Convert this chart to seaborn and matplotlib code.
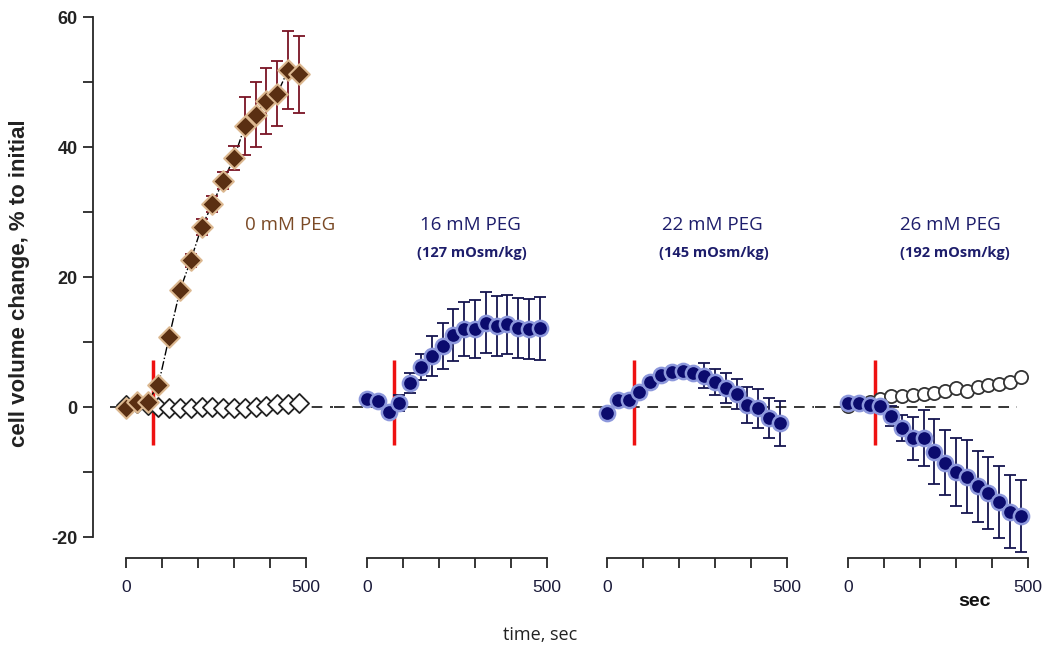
import matplotlib
matplotlib.use("Agg")
import matplotlib.pyplot as plt
import seaborn as sns
import pandas as pd

sns.set_style("ticks")
plt.rcParams['font.family'] = ['Liberation Sans', 'DejaVu Sans']

# time points, sec
time = [0, 30, 60, 90, 120, 150, 180, 210, 240, 270, 300, 330, 360, 390, 420, 450, 480]

# 0 mM PEG
peg0 = [-0.2, 0.8, 0.8, 3.4, 10.8, 18.0, 22.6, 27.7, 31.2, 34.8, 38.3, 43.2, 45.0, 47.1, 48.2, 51.8, 51.2]
peg0_err = [0.3, 0.3, 0.3, 0.4, 0.5, 0.6, 1.0, 1.3, 1.2, 1.3, 1.8, 4.5, 5.0, 5.1, 5.0, 6.0, 5.9]
ctrl0 = [0.3, 0.6, 0.3, 0.0, -0.1, -0.1, -0.1, 0.0, 0.0, -0.1, -0.1, -0.1, 0.0, 0.2, 0.4, 0.5, 0.6]

# 16 mM PEG
peg16 = [1.2, 0.9, -0.7, 0.6, 3.7, 6.2, 7.9, 9.4, 11.1, 12.0, 12.0, 13.0, 12.5, 12.7, 12.1, 12.0, 12.1]
peg16_err = [0.4, 0.4, 0.4, 1.2, 1.6, 2.0, 3.1, 3.6, 4.0, 4.2, 4.5, 4.7, 4.6, 4.6, 4.6, 4.6, 4.8]

# 22 mM PEG
peg22 = [-0.9, 1.1, 1.1, 2.3, 3.9, 5.0, 5.4, 5.6, 5.2, 4.8, 3.9, 2.9, 2.0, 0.3, -0.2, -1.7, -2.5]
peg22_err = [0.3, 0.3, 0.3, 0.3, 0.4, 0.4, 0.5, 0.6, 0.8, 1.9, 2.0, 2.3, 2.3, 2.8, 3.0, 3.1, 3.5]

# 26 mM PEG
peg26 = [0.6, 0.6, 0.3, 0.2, -1.4, -3.3, -4.8, -4.8, -6.9, -8.6, -10.0, -10.7, -12.2, -13.2, -14.6, -16.1, -16.8]
peg26_err = [0.3, 0.3, 0.3, 0.4, 1.5, 2.0, 3.3, 4.3, 5.0, 5.0, 5.3, 5.6, 5.5, 5.5, 5.6, 5.6, 5.5]
ctrl26 = [0.2, 0.4, 0.8, 1.2, 1.7, 1.7, 1.8, 2.0, 2.2, 2.5, 2.9, 2.5, 3.1, 3.4, 3.6, 3.9, 4.6]

titles = ["0 mM PEG", "16 mM PEG", "22 mM PEG", "26 mM PEG"]
osmo = ["", "(127 mOsm/kg)", "(145 mOsm/kg)", "(192 mOsm/kg)"]
title_x = [455, 286, 292, 283]
osmo_x = [0, 292, 297, 297]
stim_t = 75

brown = '#5a2f12'
brown_halo = '#dcb890'
brown_err = '#7a1424'
navy = '#0b0b6e'
navy_halo = '#8d98dc'
navy_err = '#15154f'

fig = plt.figure(figsize=(10.5, 6.56), dpi=100)
W, H = 1050, 656
pps = 0.36          # px per second
t_left = -92
zeros_px = [126, 367, 607, 848]
t_rights = [576, 576, 576, 535]
ylo, yhi = -23.23, 60

axes = []
for i in range(4):
    left = (zeros_px[i] + t_left * pps) / W
    width = (t_rights[i] - t_left) * pps / W
    ax = fig.add_axes([left, 1 - 558 / H, width, 541 / H])
    ax.patch.set_alpha(0)
    ax.set_xlim(t_left, t_rights[i])
    ax.set_ylim(ylo, yhi)
    sns.despine(ax=ax, left=(i > 0))
    ax.spines['bottom'].set_bounds(0, 500)
    ax.spines['bottom'].set_linewidth(1.3)
    ax.set_xticks([0, 100, 200, 300, 400, 500])
    ax.set_xticklabels(['0', '', '', '', '', '500'])
    ax.tick_params(axis='x', length=7, width=1.3, pad=9, labelsize=12.5, labelcolor='#1a1a3a')
    if i == 0:
        ax.spines['left'].set_bounds(-20, 60)
        ax.spines['left'].set_linewidth(1.3)
        ax.set_yticks([-20, -10, 0, 10, 20, 30, 40, 50, 60])
        ax.set_yticklabels(['-20', '', '0', '', '20', '', '40', '', '60'])
        ax.tick_params(axis='y', length=7, width=1.3, pad=4, labelsize=13)
        for lb in ax.get_yticklabels():
            lb.set_fontweight('bold')
            lb.set_color('#222222')
    else:
        ax.set_yticks([])
    # zero line
    x0 = -45 if i == 0 else t_left
    x1 = 470 if i == 3 else t_rights[i]
    ax.hlines(0, x0, x1, colors='black', linewidth=1.1, linestyles=(0, (7, 5)), zorder=1)
    # stimulus mark
    ax.vlines(stim_t, -5.8, 7.2, colors='#ee1111', linewidth=2.5, zorder=2)
    axes.append(ax)

# panel 1
ax = axes[0]
df0 = pd.DataFrame({'time': time, 'peg': peg0, 'err': peg0_err, 'ctrl': ctrl0})
sns.scatterplot(data=df0, x='time', y='ctrl', marker='D', s=95, color='white',
                edgecolor='#222222', linewidth=1.3, ax=ax, zorder=3)
sns.lineplot(data=df0, x='time', y='peg', color='black', linewidth=1.0,
             linestyle='-.', estimator=None, ax=ax, zorder=3)
ax.errorbar(time, peg0, yerr=peg0_err, fmt='none', ecolor=brown_err, elinewidth=1.3,
            capsize=4, capthick=1.3, zorder=4)
sns.scatterplot(data=df0, x='time', y='peg', marker='D', s=110, color=brown,
                edgecolor=brown_halo, linewidth=1.5, ax=ax, zorder=5)

# panels 2-4
series = [(peg16, peg16_err), (peg22, peg22_err), (peg26, peg26_err)]
for k, (vals, errs) in enumerate(series):
    ax = axes[k + 1]
    if k == 2:
        dfc = pd.DataFrame({'time': time, 'ctrl': ctrl26})
        sns.scatterplot(data=dfc, x='time', y='ctrl', marker='o', s=90, color='white',
                        edgecolor='#333333', linewidth=1.3, ax=ax, zorder=3)
    ax.errorbar(time, vals, yerr=errs, fmt='none', ecolor=navy_err, elinewidth=1.3,
                capsize=4, capthick=1.3, zorder=4)
    dfp = pd.DataFrame({'time': time, 'val': vals})
    sns.scatterplot(data=dfp, x='time', y='val', marker='o', s=120, color=navy,
                    edgecolor=navy_halo, linewidth=1.8, ax=ax, zorder=5)

for ax in axes:
    ax.set_xlabel('')
    ax.set_ylabel('')

# panel titles
for i, ax in enumerate(axes):
    col = '#7b4a26' if i == 0 else '#1d1d6b'
    ax.text(title_x[i], 28, titles[i], ha='center', va='center', fontsize=13.5,
            color=col, family=['Open Sans', 'DejaVu Sans'])
    if osmo[i]:
        ax.text(osmo_x[i], 23.7, osmo[i], ha='center', va='center', fontsize=10.5,
                fontweight='bold', color=col, family=['Open Sans', 'DejaVu Sans'])

fig.text(20 / W, 1 - 283 / H, 'cell volume change, % to initial', rotation=90,
         ha='center', va='center', fontsize=16, fontweight='bold', color='#222222')
fig.text(540 / W, 1 - 635 / H, 'time, sec', ha='center', va='center', fontsize=13,
         color='#222222', family=['Open Sans', 'DejaVu Sans'])
fig.text(975 / W, 1 - 601 / H, 'sec', ha='center', va='center', fontsize=14,
         fontweight='bold', color='#111111')

fig.savefig('out.png', dpi=100)
